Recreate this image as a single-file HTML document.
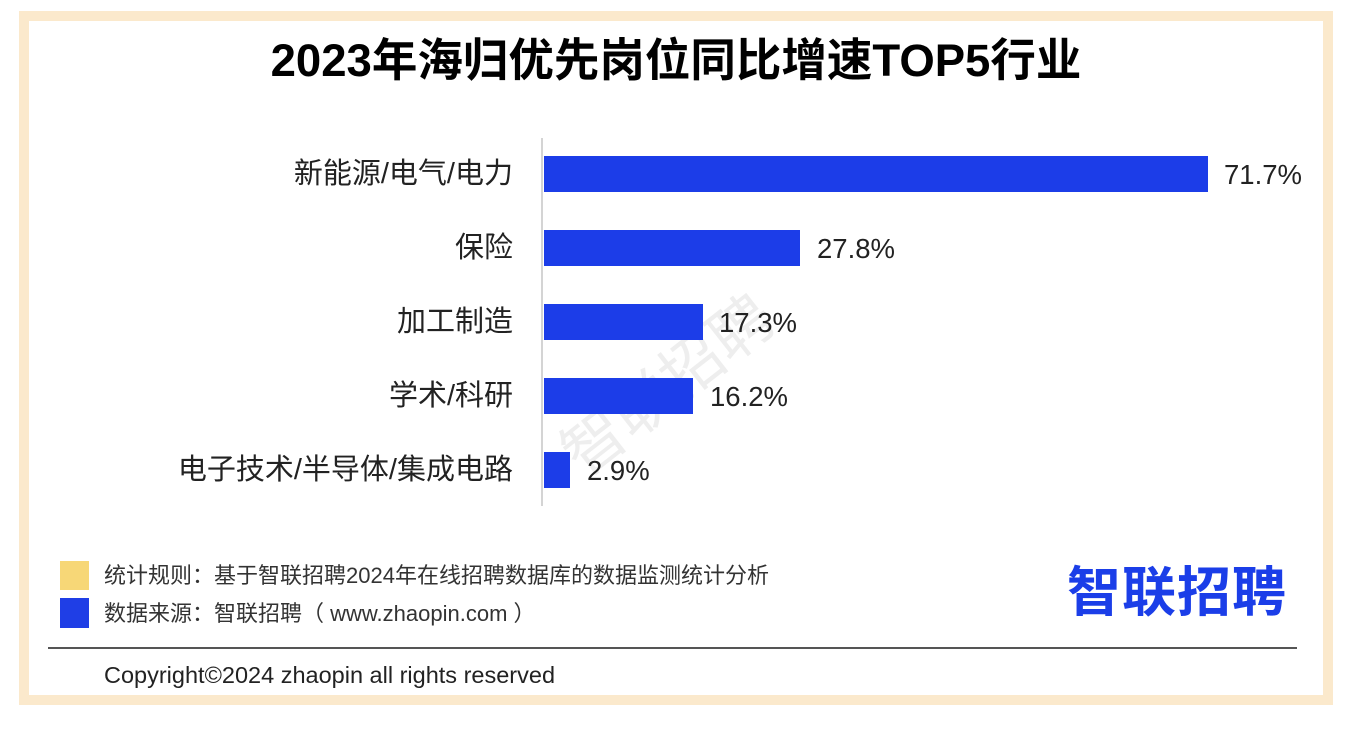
<!DOCTYPE html>
<html><head><meta charset="utf-8"><style>
body{margin:0;width:1348px;height:732px;background:#fff;position:relative;overflow:hidden;font-family:"Liberation Sans","Noto Sans CJK SC",sans-serif;}
.frame{position:absolute;left:19px;top:11px;width:1294px;height:674px;border:10px solid #fbe9cc;background:#fff;}
.abs{position:absolute;}
.lab{position:absolute;right:835px;font-size:29px;color:#222;line-height:36px;white-space:nowrap;}
.bar{position:absolute;left:544px;height:36px;background:#1c3de8;}
.val{position:absolute;font-size:27.5px;color:#222;line-height:36px;}
</style></head><body>
<div class="frame"></div>
<div class="abs" style="left:0;width:1352px;top:33px;text-align:center;font-size:45.5px;font-weight:bold;color:#000;line-height:56px;">2023年海归优先岗位同比增速TOP5行业</div>
<div class="abs" style="left:535px;top:320px;font-size:62px;color:#eeeeee;transform:rotate(-38deg);transform-origin:center;width:300px;white-space:nowrap;">智联招聘</div>
<div class="abs" style="left:541px;top:138px;width:2px;height:368px;background:#d4d4d4;"></div>
<div class="lab" style="top:156px">新能源/电气/电力</div>
<div class="bar" style="top:156px;width:664px"></div><div class="val" style="left:1224px;top:157px">71.7%</div>
<div class="lab" style="top:230px">保险</div>
<div class="bar" style="top:230px;width:256px"></div><div class="val" style="left:817px;top:231px">27.8%</div>
<div class="lab" style="top:304px">加工制造</div>
<div class="bar" style="top:304px;width:159px"></div><div class="val" style="left:719px;top:305px">17.3%</div>
<div class="lab" style="top:378px">学术/科研</div>
<div class="bar" style="top:378px;width:149px"></div><div class="val" style="left:710px;top:379px">16.2%</div>
<div class="lab" style="top:452px">电子技术/半导体/集成电路</div>
<div class="bar" style="top:452px;width:26px"></div><div class="val" style="left:587px;top:453px">2.9%</div>
<div class="abs" style="left:60px;top:561px;width:29px;height:29px;background:#f7d777"></div>
<div class="abs" style="left:60px;top:598px;width:29px;height:30px;background:#1f3ee6"></div>
<div class="abs" style="left:104px;top:561px;font-size:22px;color:#333;line-height:30px;white-space:nowrap;">统计规则：基于智联招聘2024年在线招聘数据库的数据监测统计分析</div>
<div class="abs" style="left:104px;top:599px;font-size:22px;color:#333;line-height:30px;white-space:nowrap;">数据来源：智联招聘（ www.zhaopin.com ）</div>
<div class="abs" style="left:1067px;top:558px;font-size:54px;font-weight:bold;color:#1b3ee8;line-height:70px;letter-spacing:1px;">智联招聘</div>
<div class="abs" style="left:48px;top:647px;width:1249px;height:2px;background:#555;"></div>
<div class="abs" style="left:104px;top:660px;font-size:23.5px;color:#222;line-height:30px;white-space:nowrap;">Copyright©2024 zhaopin all rights reserved</div>
</body></html>
